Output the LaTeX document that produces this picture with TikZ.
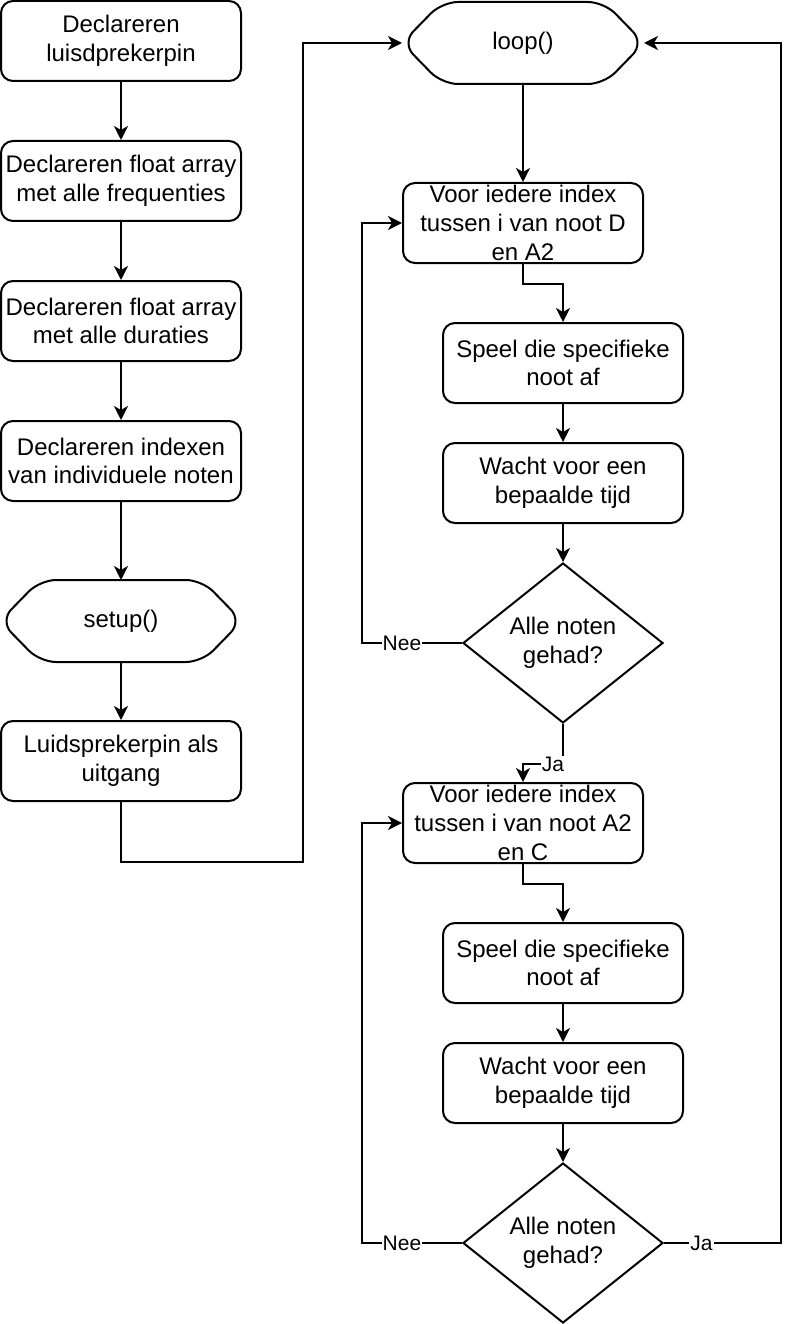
\documentclass[tikz,border=0pt]{standalone}
\usepackage{fontspec}
\setmainfont{Liberation Sans}
\usetikzlibrary{shapes.geometric,arrows.meta}
\newcommand\mainfs{\fontsize{24}{28.8}\selectfont}
\newcommand\lblfs{\fontsize{21}{24}\selectfont}
\begin{document}
\begin{tikzpicture}[x=1pt,y=-1pt,line width=2pt,
  box/.style={draw,rounded corners=12pt,minimum width=240pt,minimum height=80pt,inner sep=0pt,align=center,font=\mainfs},
  hexlbl/.style={minimum width=240pt,minimum height=80pt,inner sep=0pt,align=center,font=\mainfs},
  dia/.style={draw,diamond,aspect=1.25,minimum width=200pt,minimum height=160pt,inner sep=0pt,align=center,font=\mainfs},
  arr/.style={-{Stealth[length=14pt,width=14pt,inset=4pt]}},
  lbl/.style={fill=white,inner sep=1pt,font=\lblfs},
  hexdraw/.style={draw,rounded corners=16pt}]
\useasboundingbox (0,0) rectangle (798,1324);

% left column
\node[box] (b1) at (121,41) {Declareren\\luisdprekerpin};
\node[box] (b2) at (121,181) {Declareren float array\\met alle frequenties};
\node[box] (b3) at (121,321) {Declareren float array\\met alle duraties};
\node[box] (b4) at (121,461) {Declareren indexen\\van individuele noten};
\node[hexlbl] (setup) at (121,621) {setup()};
\draw[hexdraw] (setup.west) -- ([xshift=40pt]setup.north west) -- ([xshift=-40pt]setup.north east) -- (setup.east) -- ([xshift=-40pt]setup.south east) -- ([xshift=40pt]setup.south west) -- cycle;
\node[box] (b5) at (121,761) {Luidsprekerpin als\\uitgang};

% right column
\node[hexlbl] (loop) at (523,43) {loop()};
\draw[hexdraw] (loop.west) -- ([xshift=40pt]loop.north west) -- ([xshift=-40pt]loop.north east) -- (loop.east) -- ([xshift=-40pt]loop.south east) -- ([xshift=40pt]loop.south west) -- cycle;
\node[box] (f1) at (523,223) {Voor iedere index\\tussen i van noot D\\en A2};
\node[box] (s1) at (563,363) {Speel die specifieke\\noot af};
\node[box] (w1) at (563,483) {Wacht voor een\\bepaalde tijd};
\node[dia] (d1) at (563,643) {Alle noten\\gehad?};
\node[box] (f2) at (523,823) {Voor iedere index\\tussen i van noot A2\\en C};
\node[box] (s2) at (563,963) {Speel die specifieke\\noot af};
\node[box] (w2) at (563,1083) {Wacht voor een\\bepaalde tijd};
\node[dia] (d2) at (563,1243) {Alle noten\\gehad?};

\coordinate (c1) at (303,862);
\coordinate (c2) at (781,1243);

% connectors
\draw[arr] (b1) -- (b2);
\draw[arr] (b2) -- (b3);
\draw[arr] (b3) -- (b4);
\draw[arr] (b4) -- (setup);
\draw[arr] (setup) -- (b5);
\draw[arr] (b5.south) |- (c1) |- (loop.west);

\draw[arr] (loop.south) -- (f1.north);
\draw[arr] (f1.south) -- ++(0,20) -| (s1.north);
\draw[arr] (s1) -- (w1);
\draw[arr] (w1) -- (d1);
\draw[arr] (d1.west) -- node[lbl,pos=0.6]{Nee} ++(-100,0) |- (f1.west);
\draw[arr] (d1.south) -- ++(0,40) node[lbl,xshift=-10pt]{Ja} -| (f2.north);

\draw[arr] (f2.south) -- ++(0,20) -| (s2.north);
\draw[arr] (s2) -- (w2);
\draw[arr] (w2) -- (d2);
\draw[arr] (d2.west) -- node[lbl,pos=0.6]{Nee} ++(-100,0) |- (f2.west);
\draw[arr] (d2.east) -- node[lbl,pos=0.32]{Ja} (c2) |- (loop.east);
\end{tikzpicture}
\end{document}
